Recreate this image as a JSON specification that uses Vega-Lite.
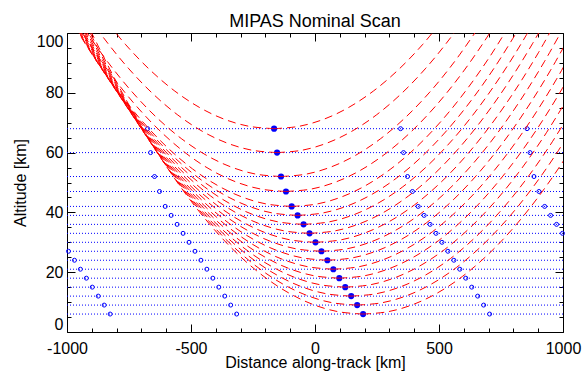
{
"$schema": "https://vega.github.io/schema/vega-lite/v6.json",
"width": 496, "height": 299,
"autosize": {"type": "none"},
"padding": {"left": 67, "top": 33, "right": 19, "bottom": 39},
"background": "white",
"title": {"text": "MIPAS Nominal Scan", "font": "Liberation Sans", "fontSize": 18, "fontWeight": "normal", "color": "black", "anchor": "middle", "frame": "group", "baseline": "alphabetic", "offset": -12},
"config": {
  "view": {"stroke": "black", "strokeWidth": 1},
  "axis": {"grid": false, "domain": false, "tickColor": "black", "tickWidth": 1, "labelFont": "Liberation Sans", "labelFontSize": 16, "labelColor": "black", "titleFont": "Liberation Sans", "titleFontSize": 16, "titleFontWeight": "normal", "titleColor": "black", "labelOverlap": false, "labelBound": false, "labelFlush": false}
},
"datasets": {
"tan": [
{"x":-165,"h":68},{"x":-153,"h":60},{"x":-137,"h":52},{"x":-117,"h":47},{"x":-94,"h":42},{"x":-70,"h":39},{"x":-46,"h":36},{"x":-22,"h":33},{"x":2,"h":30},{"x":26,"h":27},{"x":50,"h":24},{"x":74,"h":21},{"x":98,"h":18},{"x":122,"h":15},{"x":146,"h":12},{"x":170,"h":9},{"x":194,"h":6}
],
"open": [
{"x":-994,"h":27},{"x":-970,"h":24},{"x":-946,"h":21},{"x":-922,"h":18},{"x":-898,"h":15},{"x":-874,"h":12},{"x":-850,"h":9},{"x":-826,"h":6},
{"x":-675,"h":68},{"x":-663,"h":60},{"x":-647,"h":52},{"x":-627,"h":47},{"x":-604,"h":42},{"x":-580,"h":39},{"x":-556,"h":36},{"x":-532,"h":33},{"x":-508,"h":30},{"x":-484,"h":27},{"x":-460,"h":24},{"x":-436,"h":21},{"x":-412,"h":18},{"x":-388,"h":15},{"x":-364,"h":12},{"x":-340,"h":9},{"x":-316,"h":6},
{"x":345,"h":68},{"x":357,"h":60},{"x":373,"h":52},{"x":393,"h":47},{"x":416,"h":42},{"x":440,"h":39},{"x":464,"h":36},{"x":488,"h":33},{"x":512,"h":30},{"x":536,"h":27},{"x":560,"h":24},{"x":584,"h":21},{"x":608,"h":18},{"x":632,"h":15},{"x":656,"h":12},{"x":680,"h":9},{"x":704,"h":6},
{"x":855,"h":68},{"x":867,"h":60},{"x":883,"h":52},{"x":903,"h":47},{"x":926,"h":42},{"x":950,"h":39},{"x":974,"h":36},{"x":998,"h":33}
],
"los": [
{"t":68,"s":"L","d":0,"x":-165,"h":68},{"t":68,"s":"L","d":1,"x":-265,"h":68.78},{"t":68,"s":"L","d":2,"x":-365,"h":71.14},{"t":68,"s":"L","d":3,"x":-465,"h":75.06},{"t":68,"s":"L","d":4,"x":-565,"h":80.56},{"t":68,"s":"L","d":5,"x":-665,"h":87.62},{"t":68,"s":"L","d":6,"x":-765,"h":96.25},{"t":68,"s":"L","d":7,"x":-865,"h":106.46},
{"t":68,"s":"R","d":0,"x":-165,"h":68},{"t":68,"s":"R","d":1,"x":-65,"h":68.78},{"t":68,"s":"R","d":2,"x":35,"h":71.14},{"t":68,"s":"R","d":3,"x":135,"h":75.06},{"t":68,"s":"R","d":4,"x":235,"h":80.56},{"t":68,"s":"R","d":5,"x":335,"h":87.62},{"t":68,"s":"R","d":6,"x":435,"h":96.25},{"t":68,"s":"R","d":7,"x":535,"h":106.46},
{"t":60,"s":"L","d":0,"x":-153,"h":60},{"t":60,"s":"L","d":1,"x":-253,"h":60.78},{"t":60,"s":"L","d":2,"x":-353,"h":63.14},{"t":60,"s":"L","d":3,"x":-453,"h":67.06},{"t":60,"s":"L","d":4,"x":-553,"h":72.56},{"t":60,"s":"L","d":5,"x":-653,"h":79.62},{"t":60,"s":"L","d":6,"x":-753,"h":88.25},{"t":60,"s":"L","d":7,"x":-853,"h":98.46},{"t":60,"s":"L","d":8,"x":-953,"h":110.23},
{"t":60,"s":"R","d":0,"x":-153,"h":60},{"t":60,"s":"R","d":1,"x":-53,"h":60.78},{"t":60,"s":"R","d":2,"x":47,"h":63.14},{"t":60,"s":"R","d":3,"x":147,"h":67.06},{"t":60,"s":"R","d":4,"x":247,"h":72.56},{"t":60,"s":"R","d":5,"x":347,"h":79.62},{"t":60,"s":"R","d":6,"x":447,"h":88.25},{"t":60,"s":"R","d":7,"x":547,"h":98.46},{"t":60,"s":"R","d":8,"x":647,"h":110.23},
{"t":52,"s":"L","d":0,"x":-137,"h":52},{"t":52,"s":"L","d":1,"x":-237,"h":52.78},{"t":52,"s":"L","d":2,"x":-337,"h":55.14},{"t":52,"s":"L","d":3,"x":-437,"h":59.06},{"t":52,"s":"L","d":4,"x":-537,"h":64.56},{"t":52,"s":"L","d":5,"x":-637,"h":71.62},{"t":52,"s":"L","d":6,"x":-737,"h":80.25},{"t":52,"s":"L","d":7,"x":-837,"h":90.46},{"t":52,"s":"L","d":8,"x":-937,"h":102.23},
{"t":52,"s":"R","d":0,"x":-137,"h":52},{"t":52,"s":"R","d":1,"x":-37,"h":52.78},{"t":52,"s":"R","d":2,"x":63,"h":55.14},{"t":52,"s":"R","d":3,"x":163,"h":59.06},{"t":52,"s":"R","d":4,"x":263,"h":64.56},{"t":52,"s":"R","d":5,"x":363,"h":71.62},{"t":52,"s":"R","d":6,"x":463,"h":80.25},{"t":52,"s":"R","d":7,"x":563,"h":90.46},{"t":52,"s":"R","d":8,"x":663,"h":102.23},
{"t":47,"s":"L","d":0,"x":-117,"h":47},{"t":47,"s":"L","d":1,"x":-217,"h":47.78},{"t":47,"s":"L","d":2,"x":-317,"h":50.14},{"t":47,"s":"L","d":3,"x":-417,"h":54.06},{"t":47,"s":"L","d":4,"x":-517,"h":59.56},{"t":47,"s":"L","d":5,"x":-617,"h":66.62},{"t":47,"s":"L","d":6,"x":-717,"h":75.25},{"t":47,"s":"L","d":7,"x":-817,"h":85.46},{"t":47,"s":"L","d":8,"x":-917,"h":97.23},{"t":47,"s":"L","d":9,"x":-1017,"h":110.57},
{"t":47,"s":"R","d":0,"x":-117,"h":47},{"t":47,"s":"R","d":1,"x":-17,"h":47.78},{"t":47,"s":"R","d":2,"x":83,"h":50.14},{"t":47,"s":"R","d":3,"x":183,"h":54.06},{"t":47,"s":"R","d":4,"x":283,"h":59.56},{"t":47,"s":"R","d":5,"x":383,"h":66.62},{"t":47,"s":"R","d":6,"x":483,"h":75.25},{"t":47,"s":"R","d":7,"x":583,"h":85.46},{"t":47,"s":"R","d":8,"x":683,"h":97.23},{"t":47,"s":"R","d":9,"x":783,"h":110.57},
{"t":42,"s":"L","d":0,"x":-94,"h":42},{"t":42,"s":"L","d":1,"x":-194,"h":42.78},{"t":42,"s":"L","d":2,"x":-294,"h":45.14},{"t":42,"s":"L","d":3,"x":-394,"h":49.06},{"t":42,"s":"L","d":4,"x":-494,"h":54.56},{"t":42,"s":"L","d":5,"x":-594,"h":61.62},{"t":42,"s":"L","d":6,"x":-694,"h":70.25},{"t":42,"s":"L","d":7,"x":-794,"h":80.46},{"t":42,"s":"L","d":8,"x":-894,"h":92.23},{"t":42,"s":"L","d":9,"x":-994,"h":105.57},
{"t":42,"s":"R","d":0,"x":-94,"h":42},{"t":42,"s":"R","d":1,"x":6,"h":42.78},{"t":42,"s":"R","d":2,"x":106,"h":45.14},{"t":42,"s":"R","d":3,"x":206,"h":49.06},{"t":42,"s":"R","d":4,"x":306,"h":54.56},{"t":42,"s":"R","d":5,"x":406,"h":61.62},{"t":42,"s":"R","d":6,"x":506,"h":70.25},{"t":42,"s":"R","d":7,"x":606,"h":80.46},{"t":42,"s":"R","d":8,"x":706,"h":92.23},{"t":42,"s":"R","d":9,"x":806,"h":105.57},
{"t":39,"s":"L","d":0,"x":-70,"h":39},{"t":39,"s":"L","d":1,"x":-170,"h":39.78},{"t":39,"s":"L","d":2,"x":-270,"h":42.14},{"t":39,"s":"L","d":3,"x":-370,"h":46.06},{"t":39,"s":"L","d":4,"x":-470,"h":51.56},{"t":39,"s":"L","d":5,"x":-570,"h":58.62},{"t":39,"s":"L","d":6,"x":-670,"h":67.25},{"t":39,"s":"L","d":7,"x":-770,"h":77.46},{"t":39,"s":"L","d":8,"x":-870,"h":89.23},{"t":39,"s":"L","d":9,"x":-970,"h":102.57},
{"t":39,"s":"R","d":0,"x":-70,"h":39},{"t":39,"s":"R","d":1,"x":30,"h":39.78},{"t":39,"s":"R","d":2,"x":130,"h":42.14},{"t":39,"s":"R","d":3,"x":230,"h":46.06},{"t":39,"s":"R","d":4,"x":330,"h":51.56},{"t":39,"s":"R","d":5,"x":430,"h":58.62},{"t":39,"s":"R","d":6,"x":530,"h":67.25},{"t":39,"s":"R","d":7,"x":630,"h":77.46},{"t":39,"s":"R","d":8,"x":730,"h":89.23},{"t":39,"s":"R","d":9,"x":830,"h":102.57},
{"t":36,"s":"L","d":0,"x":-46,"h":36},{"t":36,"s":"L","d":1,"x":-146,"h":36.78},{"t":36,"s":"L","d":2,"x":-246,"h":39.14},{"t":36,"s":"L","d":3,"x":-346,"h":43.06},{"t":36,"s":"L","d":4,"x":-446,"h":48.56},{"t":36,"s":"L","d":5,"x":-546,"h":55.62},{"t":36,"s":"L","d":6,"x":-646,"h":64.25},{"t":36,"s":"L","d":7,"x":-746,"h":74.46},{"t":36,"s":"L","d":8,"x":-846,"h":86.23},{"t":36,"s":"L","d":9,"x":-946,"h":99.57},{"t":36,"s":"L","d":10,"x":-1046,"h":114.48},
{"t":36,"s":"R","d":0,"x":-46,"h":36},{"t":36,"s":"R","d":1,"x":54,"h":36.78},{"t":36,"s":"R","d":2,"x":154,"h":39.14},{"t":36,"s":"R","d":3,"x":254,"h":43.06},{"t":36,"s":"R","d":4,"x":354,"h":48.56},{"t":36,"s":"R","d":5,"x":454,"h":55.62},{"t":36,"s":"R","d":6,"x":554,"h":64.25},{"t":36,"s":"R","d":7,"x":654,"h":74.46},{"t":36,"s":"R","d":8,"x":754,"h":86.23},{"t":36,"s":"R","d":9,"x":854,"h":99.57},{"t":36,"s":"R","d":10,"x":954,"h":114.48},
{"t":33,"s":"L","d":0,"x":-22,"h":33},{"t":33,"s":"L","d":1,"x":-122,"h":33.78},{"t":33,"s":"L","d":2,"x":-222,"h":36.14},{"t":33,"s":"L","d":3,"x":-322,"h":40.06},{"t":33,"s":"L","d":4,"x":-422,"h":45.56},{"t":33,"s":"L","d":5,"x":-522,"h":52.62},{"t":33,"s":"L","d":6,"x":-622,"h":61.25},{"t":33,"s":"L","d":7,"x":-722,"h":71.46},{"t":33,"s":"L","d":8,"x":-822,"h":83.23},{"t":33,"s":"L","d":9,"x":-922,"h":96.57},{"t":33,"s":"L","d":10,"x":-1022,"h":111.48},
{"t":33,"s":"R","d":0,"x":-22,"h":33},{"t":33,"s":"R","d":1,"x":78,"h":33.78},{"t":33,"s":"R","d":2,"x":178,"h":36.14},{"t":33,"s":"R","d":3,"x":278,"h":40.06},{"t":33,"s":"R","d":4,"x":378,"h":45.56},{"t":33,"s":"R","d":5,"x":478,"h":52.62},{"t":33,"s":"R","d":6,"x":578,"h":61.25},{"t":33,"s":"R","d":7,"x":678,"h":71.46},{"t":33,"s":"R","d":8,"x":778,"h":83.23},{"t":33,"s":"R","d":9,"x":878,"h":96.57},{"t":33,"s":"R","d":10,"x":978,"h":111.48},
{"t":30,"s":"L","d":0,"x":2,"h":30},{"t":30,"s":"L","d":1,"x":-98,"h":30.78},{"t":30,"s":"L","d":2,"x":-198,"h":33.14},{"t":30,"s":"L","d":3,"x":-298,"h":37.06},{"t":30,"s":"L","d":4,"x":-398,"h":42.56},{"t":30,"s":"L","d":5,"x":-498,"h":49.62},{"t":30,"s":"L","d":6,"x":-598,"h":58.25},{"t":30,"s":"L","d":7,"x":-698,"h":68.46},{"t":30,"s":"L","d":8,"x":-798,"h":80.23},{"t":30,"s":"L","d":9,"x":-898,"h":93.57},{"t":30,"s":"L","d":10,"x":-998,"h":108.48},
{"t":30,"s":"R","d":0,"x":2,"h":30},{"t":30,"s":"R","d":1,"x":102,"h":30.78},{"t":30,"s":"R","d":2,"x":202,"h":33.14},{"t":30,"s":"R","d":3,"x":302,"h":37.06},{"t":30,"s":"R","d":4,"x":402,"h":42.56},{"t":30,"s":"R","d":5,"x":502,"h":49.62},{"t":30,"s":"R","d":6,"x":602,"h":58.25},{"t":30,"s":"R","d":7,"x":702,"h":68.46},{"t":30,"s":"R","d":8,"x":802,"h":80.23},{"t":30,"s":"R","d":9,"x":902,"h":93.57},{"t":30,"s":"R","d":10,"x":1002,"h":108.48},
{"t":27,"s":"L","d":0,"x":26,"h":27},{"t":27,"s":"L","d":1,"x":-74,"h":27.78},{"t":27,"s":"L","d":2,"x":-174,"h":30.14},{"t":27,"s":"L","d":3,"x":-274,"h":34.06},{"t":27,"s":"L","d":4,"x":-374,"h":39.56},{"t":27,"s":"L","d":5,"x":-474,"h":46.62},{"t":27,"s":"L","d":6,"x":-574,"h":55.25},{"t":27,"s":"L","d":7,"x":-674,"h":65.46},{"t":27,"s":"L","d":8,"x":-774,"h":77.23},{"t":27,"s":"L","d":9,"x":-874,"h":90.57},{"t":27,"s":"L","d":10,"x":-974,"h":105.48},
{"t":27,"s":"R","d":0,"x":26,"h":27},{"t":27,"s":"R","d":1,"x":126,"h":27.78},{"t":27,"s":"R","d":2,"x":226,"h":30.14},{"t":27,"s":"R","d":3,"x":326,"h":34.06},{"t":27,"s":"R","d":4,"x":426,"h":39.56},{"t":27,"s":"R","d":5,"x":526,"h":46.62},{"t":27,"s":"R","d":6,"x":626,"h":55.25},{"t":27,"s":"R","d":7,"x":726,"h":65.46},{"t":27,"s":"R","d":8,"x":826,"h":77.23},{"t":27,"s":"R","d":9,"x":926,"h":90.57},{"t":27,"s":"R","d":10,"x":1026,"h":105.48},
{"t":24,"s":"L","d":0,"x":50,"h":24},{"t":24,"s":"L","d":1,"x":-50,"h":24.78},{"t":24,"s":"L","d":2,"x":-150,"h":27.14},{"t":24,"s":"L","d":3,"x":-250,"h":31.06},{"t":24,"s":"L","d":4,"x":-350,"h":36.56},{"t":24,"s":"L","d":5,"x":-450,"h":43.62},{"t":24,"s":"L","d":6,"x":-550,"h":52.25},{"t":24,"s":"L","d":7,"x":-650,"h":62.46},{"t":24,"s":"L","d":8,"x":-750,"h":74.23},{"t":24,"s":"L","d":9,"x":-850,"h":87.57},{"t":24,"s":"L","d":10,"x":-950,"h":102.48},
{"t":24,"s":"R","d":0,"x":50,"h":24},{"t":24,"s":"R","d":1,"x":150,"h":24.78},{"t":24,"s":"R","d":2,"x":250,"h":27.14},{"t":24,"s":"R","d":3,"x":350,"h":31.06},{"t":24,"s":"R","d":4,"x":450,"h":36.56},{"t":24,"s":"R","d":5,"x":550,"h":43.62},{"t":24,"s":"R","d":6,"x":650,"h":52.25},{"t":24,"s":"R","d":7,"x":750,"h":62.46},{"t":24,"s":"R","d":8,"x":850,"h":74.23},{"t":24,"s":"R","d":9,"x":950,"h":87.57},{"t":24,"s":"R","d":10,"x":1050,"h":102.48},
{"t":21,"s":"L","d":0,"x":74,"h":21},{"t":21,"s":"L","d":1,"x":-26,"h":21.78},{"t":21,"s":"L","d":2,"x":-126,"h":24.14},{"t":21,"s":"L","d":3,"x":-226,"h":28.06},{"t":21,"s":"L","d":4,"x":-326,"h":33.56},{"t":21,"s":"L","d":5,"x":-426,"h":40.62},{"t":21,"s":"L","d":6,"x":-526,"h":49.25},{"t":21,"s":"L","d":7,"x":-626,"h":59.46},{"t":21,"s":"L","d":8,"x":-726,"h":71.23},{"t":21,"s":"L","d":9,"x":-826,"h":84.57},{"t":21,"s":"L","d":10,"x":-926,"h":99.48},{"t":21,"s":"L","d":11,"x":-1026,"h":115.96},
{"t":21,"s":"R","d":0,"x":74,"h":21},{"t":21,"s":"R","d":1,"x":174,"h":21.78},{"t":21,"s":"R","d":2,"x":274,"h":24.14},{"t":21,"s":"R","d":3,"x":374,"h":28.06},{"t":21,"s":"R","d":4,"x":474,"h":33.56},{"t":21,"s":"R","d":5,"x":574,"h":40.62},{"t":21,"s":"R","d":6,"x":674,"h":49.25},{"t":21,"s":"R","d":7,"x":774,"h":59.46},{"t":21,"s":"R","d":8,"x":874,"h":71.23},{"t":21,"s":"R","d":9,"x":974,"h":84.57},{"t":21,"s":"R","d":10,"x":1074,"h":99.48},
{"t":18,"s":"L","d":0,"x":98,"h":18},{"t":18,"s":"L","d":1,"x":-2,"h":18.78},{"t":18,"s":"L","d":2,"x":-102,"h":21.14},{"t":18,"s":"L","d":3,"x":-202,"h":25.06},{"t":18,"s":"L","d":4,"x":-302,"h":30.56},{"t":18,"s":"L","d":5,"x":-402,"h":37.62},{"t":18,"s":"L","d":6,"x":-502,"h":46.25},{"t":18,"s":"L","d":7,"x":-602,"h":56.46},{"t":18,"s":"L","d":8,"x":-702,"h":68.23},{"t":18,"s":"L","d":9,"x":-802,"h":81.57},{"t":18,"s":"L","d":10,"x":-902,"h":96.48},{"t":18,"s":"L","d":11,"x":-1002,"h":112.96},
{"t":18,"s":"R","d":0,"x":98,"h":18},{"t":18,"s":"R","d":1,"x":198,"h":18.78},{"t":18,"s":"R","d":2,"x":298,"h":21.14},{"t":18,"s":"R","d":3,"x":398,"h":25.06},{"t":18,"s":"R","d":4,"x":498,"h":30.56},{"t":18,"s":"R","d":5,"x":598,"h":37.62},{"t":18,"s":"R","d":6,"x":698,"h":46.25},{"t":18,"s":"R","d":7,"x":798,"h":56.46},{"t":18,"s":"R","d":8,"x":898,"h":68.23},{"t":18,"s":"R","d":9,"x":998,"h":81.57},{"t":18,"s":"R","d":10,"x":1098,"h":96.48},
{"t":15,"s":"L","d":0,"x":122,"h":15},{"t":15,"s":"L","d":1,"x":22,"h":15.78},{"t":15,"s":"L","d":2,"x":-78,"h":18.14},{"t":15,"s":"L","d":3,"x":-178,"h":22.06},{"t":15,"s":"L","d":4,"x":-278,"h":27.56},{"t":15,"s":"L","d":5,"x":-378,"h":34.62},{"t":15,"s":"L","d":6,"x":-478,"h":43.25},{"t":15,"s":"L","d":7,"x":-578,"h":53.46},{"t":15,"s":"L","d":8,"x":-678,"h":65.23},{"t":15,"s":"L","d":9,"x":-778,"h":78.57},{"t":15,"s":"L","d":10,"x":-878,"h":93.48},{"t":15,"s":"L","d":11,"x":-978,"h":109.96},
{"t":15,"s":"R","d":0,"x":122,"h":15},{"t":15,"s":"R","d":1,"x":222,"h":15.78},{"t":15,"s":"R","d":2,"x":322,"h":18.14},{"t":15,"s":"R","d":3,"x":422,"h":22.06},{"t":15,"s":"R","d":4,"x":522,"h":27.56},{"t":15,"s":"R","d":5,"x":622,"h":34.62},{"t":15,"s":"R","d":6,"x":722,"h":43.25},{"t":15,"s":"R","d":7,"x":822,"h":53.46},{"t":15,"s":"R","d":8,"x":922,"h":65.23},{"t":15,"s":"R","d":9,"x":1022,"h":78.57},
{"t":12,"s":"L","d":0,"x":146,"h":12},{"t":12,"s":"L","d":1,"x":46,"h":12.78},{"t":12,"s":"L","d":2,"x":-54,"h":15.14},{"t":12,"s":"L","d":3,"x":-154,"h":19.06},{"t":12,"s":"L","d":4,"x":-254,"h":24.56},{"t":12,"s":"L","d":5,"x":-354,"h":31.62},{"t":12,"s":"L","d":6,"x":-454,"h":40.25},{"t":12,"s":"L","d":7,"x":-554,"h":50.46},{"t":12,"s":"L","d":8,"x":-654,"h":62.23},{"t":12,"s":"L","d":9,"x":-754,"h":75.57},{"t":12,"s":"L","d":10,"x":-854,"h":90.48},{"t":12,"s":"L","d":11,"x":-954,"h":106.96},
{"t":12,"s":"R","d":0,"x":146,"h":12},{"t":12,"s":"R","d":1,"x":246,"h":12.78},{"t":12,"s":"R","d":2,"x":346,"h":15.14},{"t":12,"s":"R","d":3,"x":446,"h":19.06},{"t":12,"s":"R","d":4,"x":546,"h":24.56},{"t":12,"s":"R","d":5,"x":646,"h":31.62},{"t":12,"s":"R","d":6,"x":746,"h":40.25},{"t":12,"s":"R","d":7,"x":846,"h":50.46},{"t":12,"s":"R","d":8,"x":946,"h":62.23},{"t":12,"s":"R","d":9,"x":1046,"h":75.57},
{"t":9,"s":"L","d":0,"x":170,"h":9},{"t":9,"s":"L","d":1,"x":70,"h":9.78},{"t":9,"s":"L","d":2,"x":-30,"h":12.14},{"t":9,"s":"L","d":3,"x":-130,"h":16.06},{"t":9,"s":"L","d":4,"x":-230,"h":21.56},{"t":9,"s":"L","d":5,"x":-330,"h":28.62},{"t":9,"s":"L","d":6,"x":-430,"h":37.25},{"t":9,"s":"L","d":7,"x":-530,"h":47.46},{"t":9,"s":"L","d":8,"x":-630,"h":59.23},{"t":9,"s":"L","d":9,"x":-730,"h":72.57},{"t":9,"s":"L","d":10,"x":-830,"h":87.48},{"t":9,"s":"L","d":11,"x":-930,"h":103.96},
{"t":9,"s":"R","d":0,"x":170,"h":9},{"t":9,"s":"R","d":1,"x":270,"h":9.78},{"t":9,"s":"R","d":2,"x":370,"h":12.14},{"t":9,"s":"R","d":3,"x":470,"h":16.06},{"t":9,"s":"R","d":4,"x":570,"h":21.56},{"t":9,"s":"R","d":5,"x":670,"h":28.62},{"t":9,"s":"R","d":6,"x":770,"h":37.25},{"t":9,"s":"R","d":7,"x":870,"h":47.46},{"t":9,"s":"R","d":8,"x":970,"h":59.23},{"t":9,"s":"R","d":9,"x":1070,"h":72.57},
{"t":6,"s":"L","d":0,"x":194,"h":6},{"t":6,"s":"L","d":1,"x":94,"h":6.78},{"t":6,"s":"L","d":2,"x":-6,"h":9.14},{"t":6,"s":"L","d":3,"x":-106,"h":13.06},{"t":6,"s":"L","d":4,"x":-206,"h":18.56},{"t":6,"s":"L","d":5,"x":-306,"h":25.62},{"t":6,"s":"L","d":6,"x":-406,"h":34.25},{"t":6,"s":"L","d":7,"x":-506,"h":44.46},{"t":6,"s":"L","d":8,"x":-606,"h":56.23},{"t":6,"s":"L","d":9,"x":-706,"h":69.57},{"t":6,"s":"L","d":10,"x":-806,"h":84.48},{"t":6,"s":"L","d":11,"x":-906,"h":100.96},
{"t":6,"s":"R","d":0,"x":194,"h":6},{"t":6,"s":"R","d":1,"x":294,"h":6.78},{"t":6,"s":"R","d":2,"x":394,"h":9.14},{"t":6,"s":"R","d":3,"x":494,"h":13.06},{"t":6,"s":"R","d":4,"x":594,"h":18.56},{"t":6,"s":"R","d":5,"x":694,"h":25.62},{"t":6,"s":"R","d":6,"x":794,"h":34.25},{"t":6,"s":"R","d":7,"x":894,"h":44.46},{"t":6,"s":"R","d":8,"x":994,"h":56.23},{"t":6,"s":"R","d":9,"x":1094,"h":69.57}
]
},
"layer": [
{
  "data": {"name": "tan"},
  "mark": {"type": "rule", "color": "#0000ff", "strokeWidth": 1, "strokeDash": [1, 2]},
  "encoding": {
    "y": {"field": "h", "type": "quantitative", "scale": {"domain": [0, 100], "nice": false, "zero": false}, "axis": null}
  }
},
{
  "data": {"name": "open"},
  "mark": {"type": "point", "shape": "circle", "filled": false, "color": "#0000ff", "strokeWidth": 1, "size": 16, "opacity": 1},
  "encoding": {
    "x": {"field": "x", "type": "quantitative", "scale": {"domain": [-1000, 1000], "nice": false, "zero": false},
      "axis": {"orient": "bottom", "title": "Distance along-track [km]", "values": [-1000,-900,-800,-700,-600,-500,-400,-300,-200,-100,0,100,200,300,400,500,600,700,800,900,1000],
        "labelExpr": "datum.value % 500 === 0 ? '' + datum.value : ''",
        "tickSize": {"condition": {"test": "datum.value % 500 === 0", "value": -8}, "value": -4},
        "labelPadding": 16, "titlePadding": -6}},
    "y": {"field": "h", "type": "quantitative", "scale": {"domain": [0, 100], "nice": false, "zero": false},
      "axis": {"orient": "left", "title": "Altitude [km]", "values": [0,5,10,15,20,25,30,35,40,45,50,55,60,65,70,75,80,85,90,95,100],
        "labelExpr": "datum.value % 20 === 0 ? '' + datum.value : ''",
        "tickSize": {"condition": {"test": "datum.value % 20 === 0", "value": -8}, "value": -4},
        "labelFlush": true, "labelFlushOffset": 0,
        "labelPadding": 12, "titlePadding": 8}}
  }
},
{
  "data": {"name": "tan"},
  "mark": {"type": "circle", "color": "#0000ff", "size": 38, "opacity": 1},
  "encoding": {
    "x": {"field": "x", "type": "quantitative", "scale": {"domain": [-1000, 1000], "nice": false, "zero": false}, "axis": null},
    "y": {"field": "h", "type": "quantitative", "scale": {"domain": [0, 100], "nice": false, "zero": false}, "axis": null}
  }
},
{
  "data": {"name": "los"},
  "mark": {"type": "line", "color": "#ff0000", "strokeWidth": 1, "strokeDash": [8, 5], "interpolate": "catmull-rom", "clip": true},
  "encoding": {
    "x": {"field": "x", "type": "quantitative", "scale": {"domain": [-1000, 1000], "nice": false, "zero": false},
      "axis": {"orient": "top", "title": null, "labels": false, "minExtent": 0, "maxExtent": 0, "values": [-1000,-900,-800,-700,-600,-500,-400,-300,-200,-100,0,100,200,300,400,500,600,700,800,900,1000],
        "tickSize": {"condition": {"test": "datum.value % 500 === 0", "value": -8}, "value": -4}}},
    "y": {"field": "h", "type": "quantitative", "scale": {"domain": [0, 100], "nice": false, "zero": false},
      "axis": {"orient": "right", "title": null, "labels": false, "minExtent": 0, "maxExtent": 0, "values": [0,5,10,15,20,25,30,35,40,45,50,55,60,65,70,75,80,85,90,95,100],
        "tickSize": {"condition": {"test": "datum.value % 20 === 0", "value": -8}, "value": -4}}},
    "detail": [{"field": "t", "type": "nominal"}, {"field": "s", "type": "nominal"}],
    "order": {"field": "d", "type": "quantitative"}
  }
}
],
"resolve": {"axis": {"x": "independent", "y": "independent"}}
}
